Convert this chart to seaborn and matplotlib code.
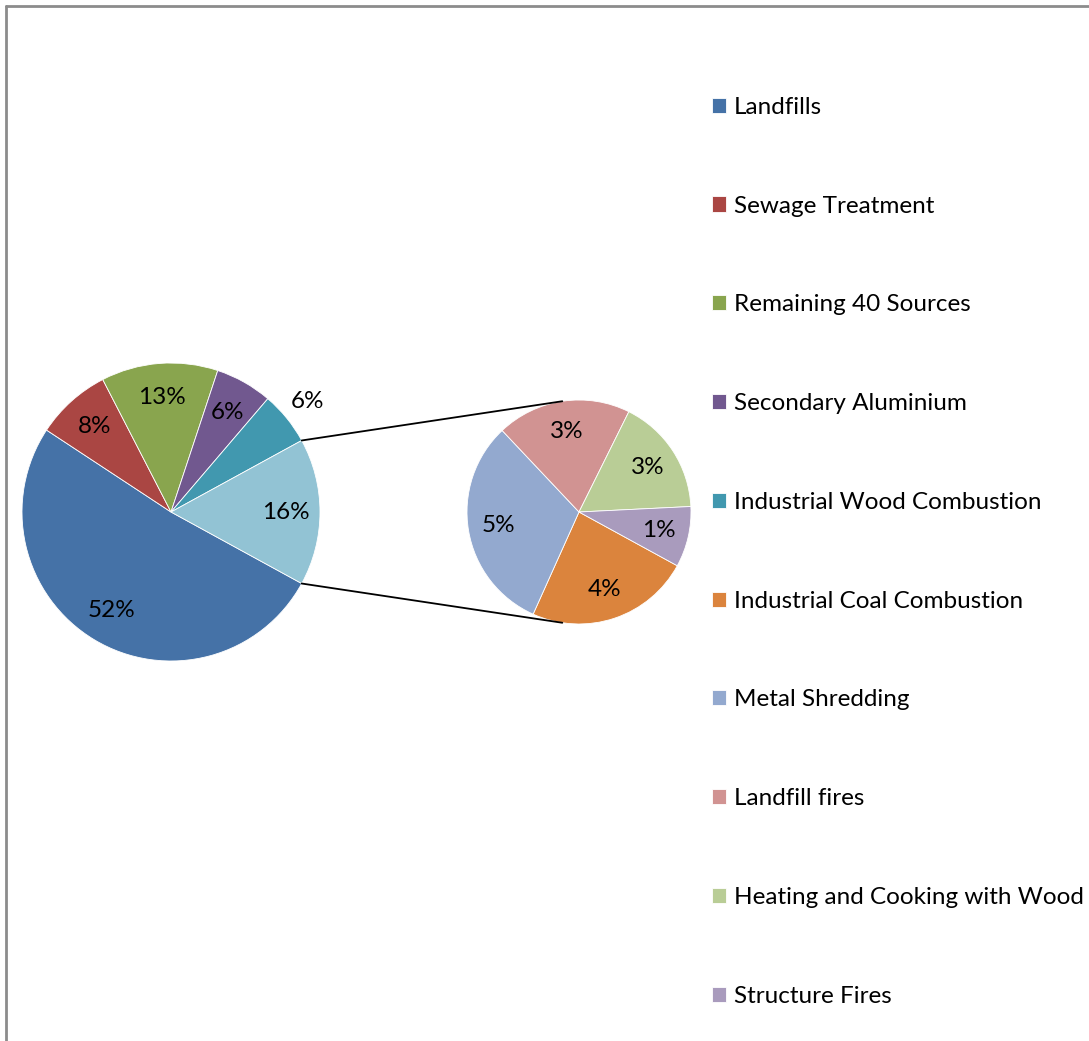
import numpy as np
import matplotlib.pyplot as plt
import seaborn as sns
from matplotlib.lines import Line2D

# main pie (percent of total)
main_labels = ["Landfills", "Sewage Treatment", "Remaining 40 Sources",
               "Secondary Aluminium", "Industrial Wood Combustion"]
main_values = [51.5, 8.2, 12.7, 6.2, 5.8]
main_colors = ["#4572A7", "#AA4643", "#89A54E", "#71588F", "#4198AF"]
other_color = "#92C3D4"

# second pie = the "other" slice split up
sub_labels = ["Industrial Coal Combustion", "Metal Shredding", "Landfill fires",
              "Heating and Cooking with Wood", "Structure Fires"]
sub_values = [3.8, 5.0, 3.1, 2.7, 1.4]
sub_colors = ["#DB843D", "#93A9CF", "#D19392", "#B9CD96", "#A99BBD"]

sns.set_theme(style="white")
plt.rcParams["font.family"] = ["Lato", "DejaVu Sans"]
plt.rcParams["text.color"] = "black"

W, H = 1089, 1041
fs = 17.5
fig = plt.figure(figsize=(W / 100, H / 100), dpi=100)
ax = fig.add_axes([0, 0, 1, 1])

other = sum(sub_values)
vals = main_values + [other]
total = sum(vals)
half = other / total * 180  # the "other" wedge sits centred on the right
start = -half

c1, r1 = (171, 529), 149
c2, r2 = (579, 529), 112

fmt = lambda p: "%d%%" % round(p * total / 100)
wedges1, _, txt1 = ax.pie(vals, colors=main_colors + [other_color],
                          startangle=start, counterclock=False,
                          center=c1, radius=r1, autopct=fmt, pctdistance=0.77,
                          textprops=dict(fontsize=fs, color="black"),
                          wedgeprops=dict(linewidth=0.6, edgecolor="white"))

# wood label is placed outside the pie
w = wedges1[4]
mid = np.deg2rad((w.theta1 + w.theta2) / 2)
txt1[4].set_position((c1[0] + 1.18 * r1 * np.cos(mid), c1[1] + 1.18 * r1 * np.sin(mid)))

fmt2 = lambda p: "%d%%" % round(p * other / 100)
wedges2, _, txt2 = ax.pie(sub_values, colors=sub_colors,
                          startangle=start, counterclock=False,
                          center=c2, radius=r2, autopct=fmt2, pctdistance=0.73,
                          textprops=dict(fontsize=fs, color="black"),
                          wedgeprops=dict(linewidth=0.6, edgecolor="white"))

# connector lines: from edges of the "other" wedge, tangent to the second pie
for sgn in (1, -1):
    a = np.deg2rad(sgn * half)
    p = np.array([c1[0] + r1 * np.cos(a), c1[1] + r1 * np.sin(a)])
    v = p - np.array(c2)
    d = np.hypot(*v)
    phi = np.arctan2(v[1], v[0]) - sgn * np.arccos(r2 / d)
    q = (c2[0] + r2 * np.cos(phi), c2[1] + r2 * np.sin(phi))
    ax.plot([p[0], q[0]], [p[1], q[1]], color="black", lw=1.3)

ax.set_xlim(0, W)
ax.set_ylim(0, H)
ax.set_aspect("equal")
ax.axis("off")

fig.legend(wedges1[:5] + wedges2, main_labels + sub_labels,
           loc="upper left", bbox_to_anchor=(0.654, 0.907),
           frameon=False, fontsize=fs, borderpad=0, borderaxespad=0,
           handlelength=0.58, handleheight=0.58, handletextpad=0.3,
           labelspacing=3.2, labelcolor="black")

# chart frame (only top and left edges visible)
fig.add_artist(Line2D([6 / W, 6 / W], [0, 1 - 6 / H], color="#8c8c8c", lw=2))
fig.add_artist(Line2D([6 / W, 1], [1 - 6 / H, 1 - 6 / H], color="#8c8c8c", lw=2))

fig.savefig("out.png", dpi=100)
